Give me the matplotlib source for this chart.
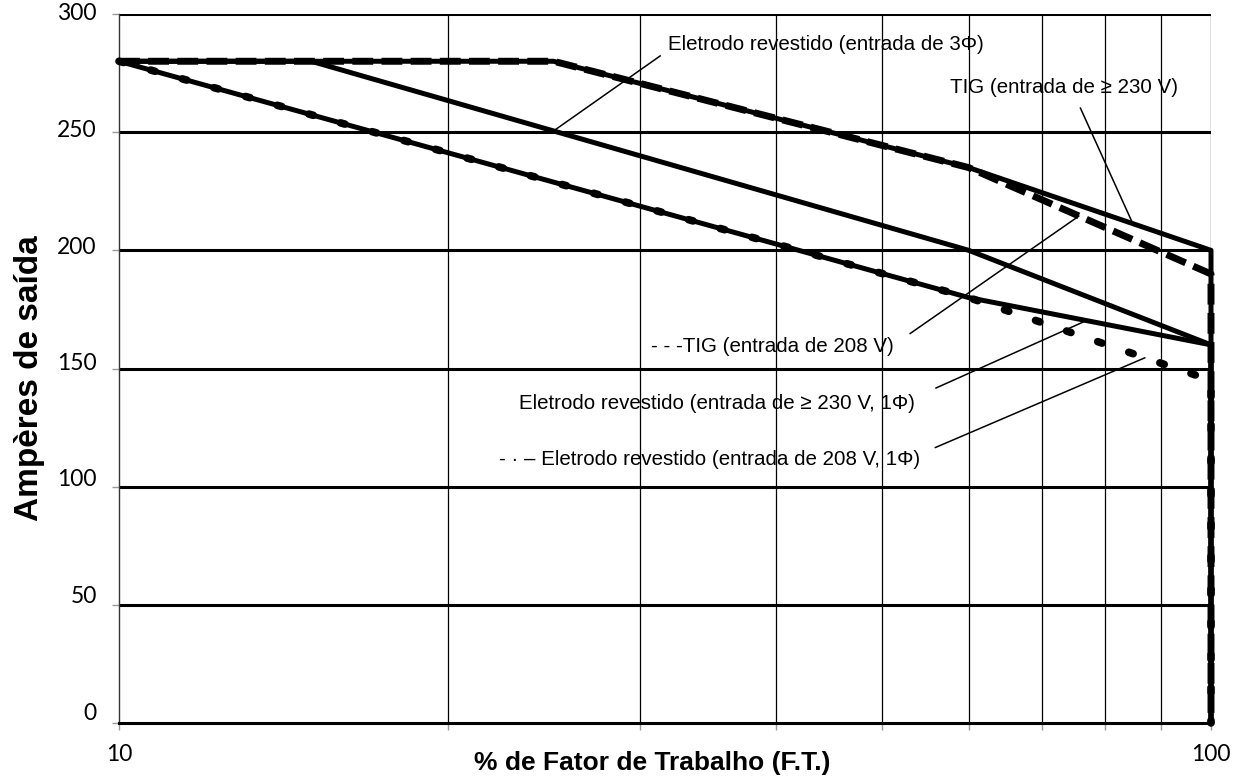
import numpy as np
import matplotlib
matplotlib.use('Agg')
from matplotlib import pyplot as plt
from matplotlib.transforms import ScaledTranslation

# curve data (% duty cycle, amps)
x_tig = [10, 25, 60, 100, 100]
y_tig_230 = [280, 280, 235, 200, 0]
y_tig_208 = [280, 280, 235, 190, 0]
x_3ph = [10, 15, 60, 100, 100]
y_3ph = [280, 280, 200, 160, 0]
x_1ph = [10, 60, 100, 100]
y_1ph_230 = [280, 180, 160, 0]
y_1ph_208 = [280, 180, 145, 0]

x_ticks = [10, 20, 30, 40, 50, 60, 70, 80, 90, 100]
x_ticklabels = ['10', '', '', '', '', '', '', '', '', '100']
y_ticks = [0, 50, 100, 150, 200, 250, 300]

fig = plt.figure(figsize=(12.41, 7.80), dpi=100)
ax = fig.add_axes([119/1241, 57/780, 1092/1241, 709/780])
ax.set_xscale('log')
ax.set_xlim(10, 100)
ax.set_ylim(0, 300)

ax.set_xticks(x_ticks)
ax.set_xticklabels(x_ticklabels)
ax.xaxis.set_minor_locator(plt.NullLocator())
ax.set_yticks(y_ticks)
ax.set_yticklabels([str(v) for v in y_ticks])

# grid: thin verticals, heavy horizontals
for xv in x_ticks[1:]:
    ax.axvline(xv, color='black', lw=0.9, zorder=1)
for yv in y_ticks[1:]:
    ax.axhline(yv, color='black', lw=2.2, zorder=1)

for s in ['top', 'right']:
    ax.spines[s].set_visible(False)
ax.spines['left'].set_linewidth(1.0)
ax.spines['left'].set_color('#333333')
ax.spines['bottom'].set_linewidth(2.2)
ax.tick_params(axis='both', length=5, width=1, color='#999999')
ax.tick_params(axis='y', pad=11, labelsize=16.5)
ax.tick_params(axis='x', pad=10, labelsize=16.5)
for lbl in ax.get_yticklabels() + ax.get_xticklabels():
    lbl.set_family('Lato')
# y labels sit a little above their gridline, more so toward the bottom
for v, lbl in zip(y_ticks, ax.get_yticklabels()):
    up = (2 + 10 * (300 - v) / 300) * 0.72
    lbl.set_transform(lbl.get_transform() + ScaledTranslation(0, up/72, fig.dpi_scale_trans))

# curves
ax.plot(x_tig, y_tig_230, color='black', lw=3.6, solid_capstyle='round', clip_on=False, zorder=3)
ax.plot(x_tig, y_tig_208, color='black', lw=5.0, dashes=(3.0, 1.2), clip_on=False, zorder=3)
ax.plot(x_3ph, y_3ph, color='black', lw=3.6, solid_capstyle='round', clip_on=False, zorder=3)
ax.plot(x_1ph, y_1ph_230, color='black', lw=3.6, solid_capstyle='round', clip_on=False, zorder=3)
ax.plot(x_1ph, y_1ph_208, color='black', lw=5.5, dashes=(0.6, 3.7), dash_capstyle='round',
        clip_on=False, zorder=3)


def on_curve(xs, ys, x):
    return np.interp(np.log10(x), np.log10(xs[:-1]), ys[:-1])


font_ann = dict(family='Liberation Sans', fontsize=14.8)
arrow = dict(arrowstyle='-', color='black', lw=1.1, shrinkB=0)

ax.annotate('Eletrodo revestido (entrada de 3\u03a6)',
            xy=(25, on_curve(x_3ph, y_3ph, 25)), xytext=(31.8, 286.9),
            ha='left', va='center', zorder=5,
            arrowprops=dict(arrow, relpos=(0, 0.2), shrinkA=4), **font_ann)
ax.annotate('TIG (entrada de \u2265 230 V)',
            xy=(84.8, on_curve(x_tig, y_tig_230, 84.8)), xytext=(57.7, 268.7),
            ha='left', va='center', zorder=5,
            arrowprops=dict(arrow, relpos=(0.55, 0), shrinkA=6), **font_ann)
ax.annotate('- - -TIG (entrada de 208 V)',
            xy=(75.7, on_curve(x_tig, y_tig_208, 75.7)), xytext=(51.2, 159.5),
            ha='right', va='center', zorder=5,
            arrowprops=dict(arrow, relpos=(1, 0.55), shrinkA=12), **font_ann)
ax.annotate('Eletrodo revestido (entrada de \u2265 230 V, 1\u03a6)',
            xy=(76.9, on_curve(x_1ph, y_1ph_230, 76.9)), xytext=(53.6, 135.4),
            ha='right', va='center', zorder=5,
            arrowprops=dict(arrow, relpos=(1, 0.8), shrinkA=14), **font_ann)
ax.annotate('- \u00b7 \u2013 Eletrodo revestido (entrada de 208 V, 1\u03a6)',
            xy=(87.0, on_curve(x_1ph, y_1ph_208, 87.0)), xytext=(54.1, 111.3),
            ha='right', va='center', zorder=5,
            arrowprops=dict(arrow, relpos=(1, 0.8), shrinkA=10), **font_ann)

ax.set_xlabel('% de Fator de Trabalho (F.T.)', fontsize=19, family='Liberation Sans',
              fontweight='bold')
ax.xaxis.set_label_coords(0.488, -0.039)
ax.set_ylabel('Amp\u00e8res de sa\u00edda', fontsize=24, family='Liberation Sans',
              fontweight='bold')
ax.yaxis.set_label_coords(-0.068, 0.487)

fig.savefig('out.png', dpi=100)
